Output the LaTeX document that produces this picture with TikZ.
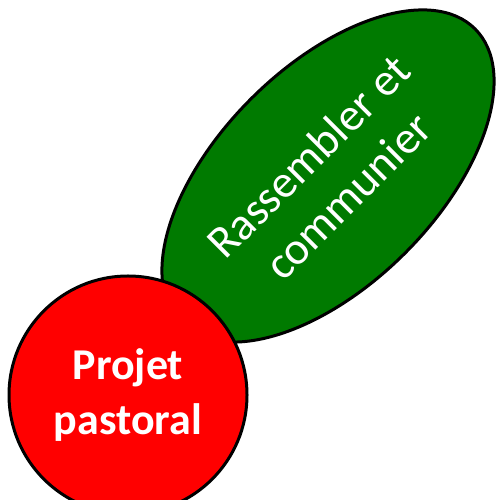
\documentclass[tikz,border=0pt]{standalone}
\usepackage{fontspec}
\setmainfont{Carlito}
\usetikzlibrary{shapes.geometric}
\definecolor{leafgreen}{RGB}{0,122,0}
\definecolor{brightred}{RGB}{255,0,0}
\tikzset{
  bubble/.style={draw=black, line width=3pt, inner sep=0pt, text=white, align=center, font=\fontsize{46}{56}\selectfont},
}
\begin{document}
\begin{tikzpicture}[x=1pt,y=1pt]
\useasboundingbox (0,0) rectangle (495,500);
\node[bubble, ellipse, fill=leafgreen, rotate=45, minimum width=416pt, minimum height=218pt] (green) at (328,324) {Rassembler et\\communier};
\node[bubble, circle, fill=brightred, minimum size=238pt, font=\bfseries\fontsize{44}{55}\selectfont] (red) at (128,105) {Projet\\pastoral};
\end{tikzpicture}
\end{document}
